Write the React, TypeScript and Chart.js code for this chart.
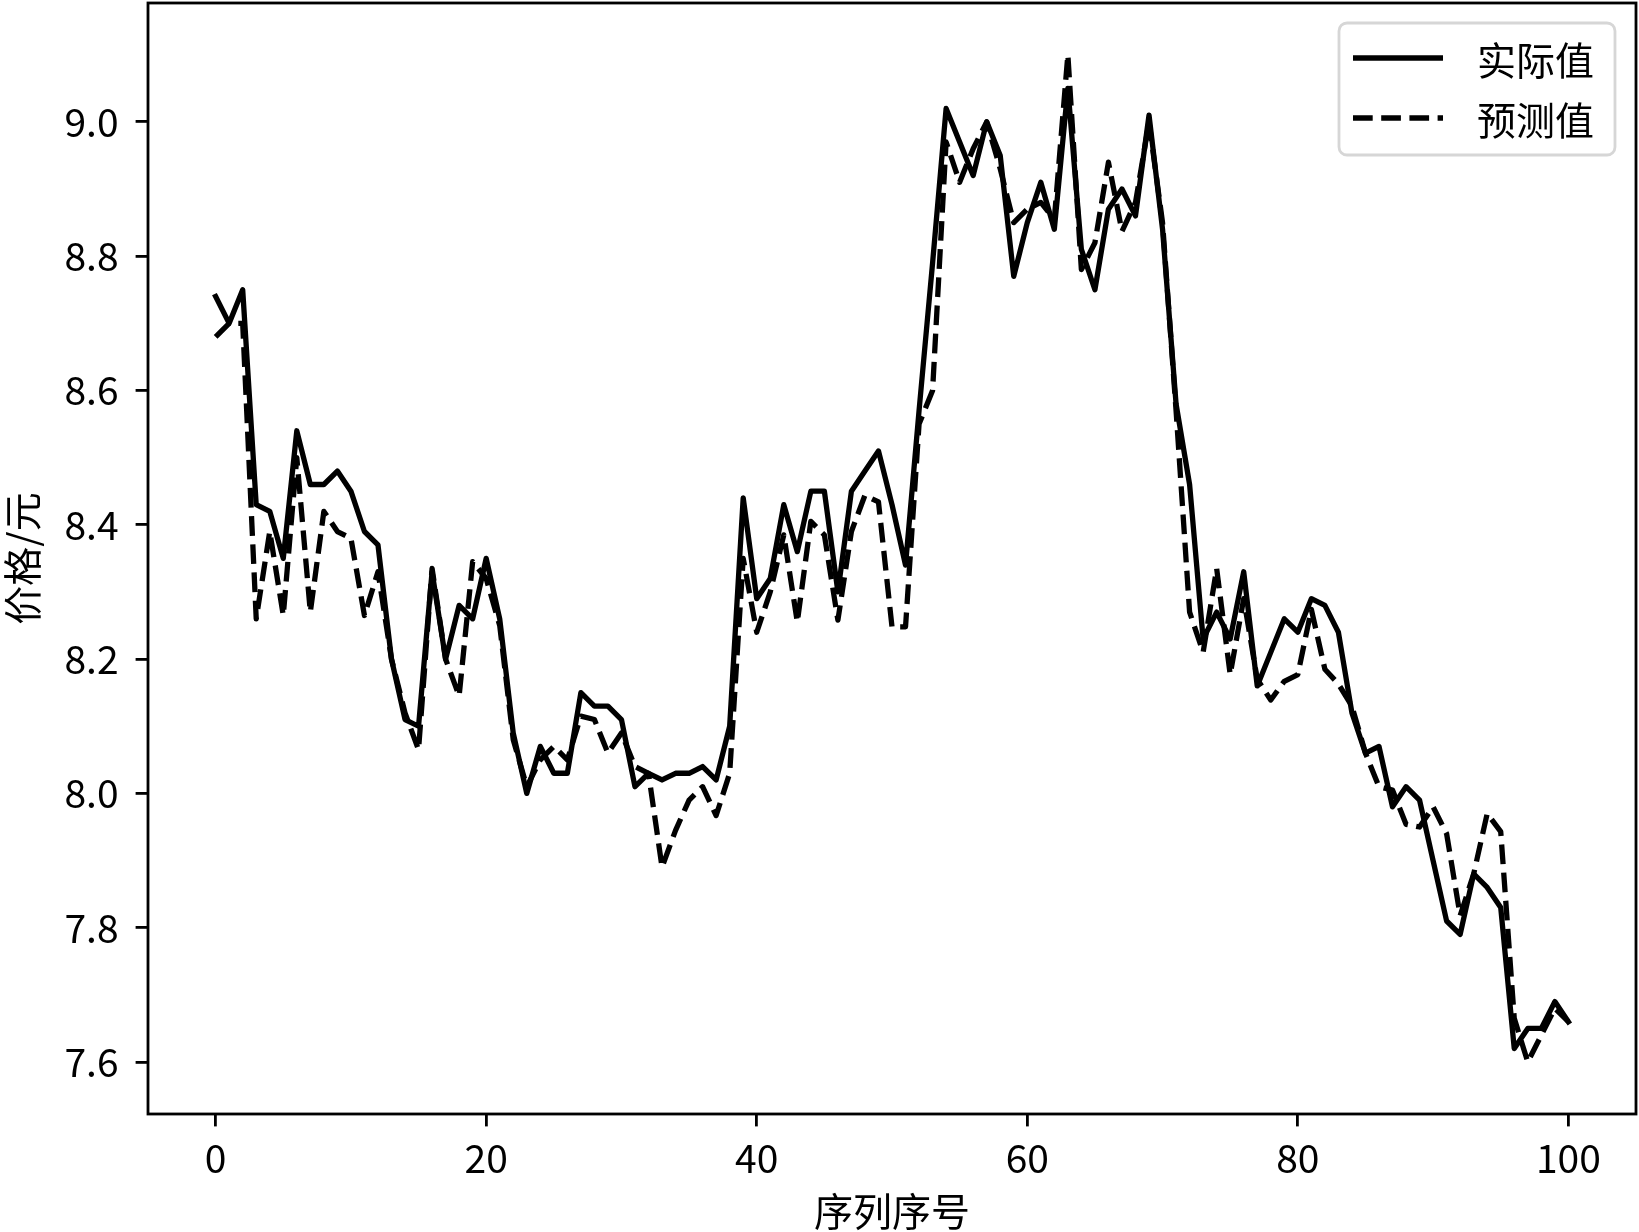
import React, { useEffect, useRef } from "react";
import { Chart, registerables } from "chart.js";

Chart.register(...registerables);

const seriesLabels = ["实际值", "预测值"];
const xTitle = "序列序号";
const yTitle = "价格/元";

const xTicks = [0, 20, 40, 60, 80, 100];
const yTicks = [7.6, 7.8, 8.0, 8.2, 8.4, 8.6, 8.8, 9.0];

const actual = [
  8.74, 8.70, 8.75, 8.43, 8.42, 8.35, 8.54, 8.46, 8.46, 8.48,
  8.45, 8.39, 8.37, 8.20, 8.11, 8.10, 8.33, 8.20, 8.28, 8.26,
  8.35, 8.26, 8.09, 8.00, 8.07, 8.03, 8.03, 8.15, 8.13, 8.13,
  8.11, 8.01, 8.03, 8.02, 8.03, 8.03, 8.04, 8.02, 8.10, 8.44,
  8.29, 8.32, 8.43, 8.36, 8.45, 8.45, 8.30, 8.45, 8.48, 8.51,
  8.43, 8.34, 8.57, 8.79, 9.02, 8.97, 8.92, 9.00, 8.95, 8.77,
  8.85, 8.91, 8.84, 9.05, 8.81, 8.75, 8.87, 8.90, 8.86, 9.01,
  8.84, 8.58, 8.46, 8.23, 8.27, 8.23, 8.33, 8.16, 8.21, 8.26,
  8.24, 8.29, 8.28, 8.24, 8.12, 8.06, 8.07, 7.98, 8.01, 7.99,
  7.90, 7.81, 7.79, 7.88, 7.86, 7.83, 7.62, 7.65, 7.65, 7.69,
  7.66,
];

const predicted = [
  8.68, 8.70, 8.70, 8.26, 8.39, 8.265, 8.50, 8.27, 8.42, 8.39,
  8.38, 8.265, 8.33, 8.20, 8.12, 8.065, 8.335, 8.20, 8.145, 8.345,
  8.32, 8.25, 8.08, 8.01, 8.05, 8.07, 8.05, 8.115, 8.11, 8.06,
  8.09, 8.04, 8.03, 7.89, 7.945, 7.99, 8.01, 7.967, 8.03, 8.35,
  8.24, 8.30, 8.385, 8.255, 8.405, 8.385, 8.258, 8.39, 8.444, 8.434,
  8.248, 8.248, 8.55, 8.60, 8.97, 8.91, 8.96, 9.00, 8.93, 8.85,
  8.87, 8.88, 8.855, 9.10, 8.78, 8.82, 8.94, 8.837, 8.88, 9.00,
  8.85, 8.57, 8.27, 8.21, 8.335, 8.177, 8.29, 8.17, 8.139, 8.167,
  8.177, 8.274, 8.185, 8.163, 8.13, 8.06, 8.01, 8.005, 7.954, 7.95,
  7.98, 7.94, 7.818, 7.88, 7.97, 7.943, 7.665, 7.60, 7.64, 7.68,
  7.66,
];

const FONT = '"Noto Sans CJK SC", "Noto Sans", sans-serif';
const FS = 39;
const LW = 5.3;
const SPINE = 2.8;
const DASH = [19.7, 8.5];

const framePlugin = {
  id: "mplFrame",
  afterDatasetsDraw(chart: any) {
    const { ctx, chartArea: a } = chart;
    ctx.save();
    ctx.strokeStyle = "#000";
    ctx.lineWidth = SPINE;
    ctx.strokeRect(a.left, a.top, a.right - a.left, a.bottom - a.top);
    ctx.restore();
  },
};

const legendPlugin = {
  id: "mplLegend",
  afterDraw(chart: any) {
    const { ctx, chartArea: a } = chart;
    const w = 276;
    const h = 132;
    const x = a.right - 21 - w;
    const y = a.top + 20;
    const r = 8;
    ctx.save();
    ctx.beginPath();
    ctx.moveTo(x + r, y);
    ctx.lineTo(x + w - r, y);
    ctx.arcTo(x + w, y, x + w, y + r, r);
    ctx.lineTo(x + w, y + h - r);
    ctx.arcTo(x + w, y + h, x + w - r, y + h, r);
    ctx.lineTo(x + r, y + h);
    ctx.arcTo(x, y + h, x, y + h - r, r);
    ctx.lineTo(x, y + r);
    ctx.arcTo(x, y, x + r, y, r);
    ctx.closePath();
    ctx.fillStyle = "rgba(255,255,255,0.8)";
    ctx.fill();
    ctx.strokeStyle = "#d6d6d6";
    ctx.lineWidth = SPINE;
    ctx.stroke();

    const rows = [y + 35, y + 95];
    chart.data.datasets.forEach((ds: any, i: number) => {
      const ly = rows[i];
      ctx.beginPath();
      ctx.setLineDash(ds.borderDash || []);
      ctx.lineCap = "butt";
      ctx.strokeStyle = "#000";
      ctx.lineWidth = LW;
      ctx.moveTo(x + 14, ly);
      ctx.lineTo(x + 104, ly);
      ctx.stroke();
      ctx.setLineDash([]);
      ctx.fillStyle = "#000";
      ctx.font = `${FS}px ${FONT}`;
      ctx.textAlign = "left";
      ctx.textBaseline = "middle";
      ctx.fillText(ds.label, x + 138, ly + 2);
    });
    ctx.restore();
  },
};

export default function App() {
  const ref = useRef<HTMLCanvasElement | null>(null);

  useEffect(() => {
    if (!ref.current) return;
    const chart = new Chart(ref.current, {
      type: "line",
      data: {
        datasets: [
          {
            label: seriesLabels[0],
            data: actual.map((v, i) => ({ x: i, y: v })),
            borderColor: "#000",
            backgroundColor: "#000",
            borderWidth: LW,
            pointRadius: 0,
            tension: 0,
            fill: false,
            borderJoinStyle: "round",
            borderCapStyle: "square",
          },
          {
            label: seriesLabels[1],
            data: predicted.map((v, i) => ({ x: i, y: v })),
            borderColor: "#000",
            backgroundColor: "#000",
            borderWidth: LW,
            borderDash: DASH,
            pointRadius: 0,
            tension: 0,
            fill: false,
            borderJoinStyle: "round",
            borderCapStyle: "butt",
          },
        ],
      },
      options: {
        responsive: false,
        animation: false,
        devicePixelRatio: 1,
        layout: { padding: { left: 0, top: 3, right: 3, bottom: 0 } },
        plugins: {
          legend: { display: false },
          tooltip: { enabled: false },
        },
        scales: {
          x: {
            type: "linear",
            min: -5,
            max: 105,
            afterBuildTicks: (s: any) => {
              s.ticks = xTicks.map((v) => ({ value: v }));
            },
            afterFit: (s: any) => {
              s.height = 118;
              s.paddingLeft = 0;
              s.paddingRight = 0;
            },
            border: { display: false },
            grid: {
              drawOnChartArea: false,
              drawTicks: true,
              tickLength: 12.4,
              tickWidth: SPINE,
              tickColor: "#000",
              lineWidth: SPINE,
              color: "#000",
            },
            ticks: {
              autoSkip: false,
              maxRotation: 0,
              color: "#000",
              padding: 8,
              font: { family: FONT, size: FS },
              callback: (v: any) => String(v),
            },
            title: {
              display: true,
              text: xTitle,
              color: "#000",
              font: { family: FONT, size: FS, lineHeight: 1.0 },
              padding: { top: 0, bottom: 1 },
            },
          },
          y: {
            type: "linear",
            min: 7.5226,
            max: 9.177,
            afterBuildTicks: (s: any) => {
              s.ticks = yTicks.map((v) => ({ value: v }));
            },
            afterFit: (s: any) => {
              s.width = 148;
              s.paddingTop = 0;
              s.paddingBottom = 0;
            },
            border: { display: false },
            grid: {
              drawOnChartArea: false,
              drawTicks: true,
              tickLength: 12.4,
              tickWidth: SPINE,
              tickColor: "#000",
              lineWidth: SPINE,
              color: "#000",
            },
            ticks: {
              autoSkip: false,
              color: "#000",
              padding: 17,
              font: { family: FONT, size: FS },
              callback: (v: any) => Number(v).toFixed(1),
            },
            title: {
              display: true,
              text: yTitle,
              color: "#000",
              font: { family: FONT, size: FS, lineHeight: 1.14 },
              padding: { top: 0, bottom: 0 },
            },
          },
        },
      } as any,
      plugins: [framePlugin, legendPlugin],
    });
    return () => chart.destroy();
  }, []);

  return (
    <div style={{ position: "absolute", left: 0, top: 0, width: 1639, height: 1232, background: "#fff" }}>
      <canvas ref={ref} width={1639} height={1232} style={{ display: "block", width: 1639, height: 1232 }} />
    </div>
  );
}
